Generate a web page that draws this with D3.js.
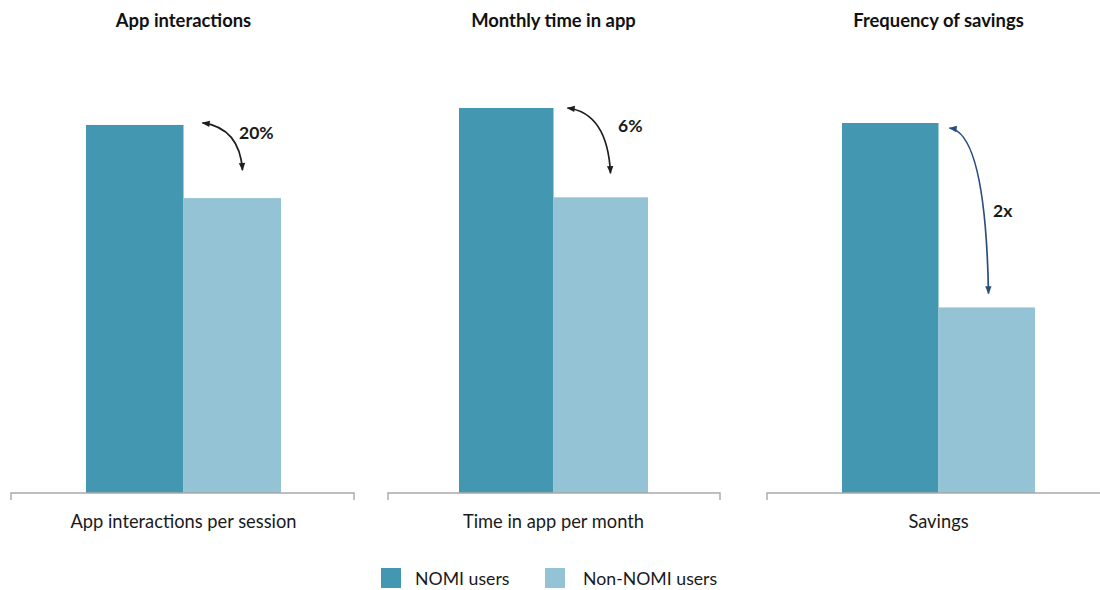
<!DOCTYPE html>
<html><head><meta charset="utf-8">
<script src="https://cdn.jsdelivr.net/npm/d3@7"></script>
<style>body{margin:0;background:#fff}svg{display:block}text{font-family:Lato,"Open Sans",sans-serif}</style>
</head><body>
<svg id="c" width="1100" height="590"></svg>
<script>
const titles = ["App interactions", "Monthly time in app", "Frequency of savings"];
const categories = ["App interactions per session", "Time in app per month", "Savings"];
const series = ["NOMI users", "Non-NOMI users"];
const nomiValues = [95.6, 100, 96.1];
const nonNomiValues = [76.6, 76.8, 48.2];
const changeLabels = ["20%", "6%", "2x"];
const colors = ["#4397b1", "#94c3d6"];

const svg = d3.select("#c");
const baseY = 493;
const y = d3.scaleLinear().domain([0, 100]).range([baseY, 108]);

// panel layout: axis extents, bar extents, arrow geometry
const panels = [
  {ax0: 11, ax1: 354, b0: 86, b1: 281, arrowCol: "#1e1e1e", sdx: 19, sdy: -2, edx: 59, edy: -28, lx: 239, ly: 139},
  {ax0: 388, ax1: 720, b0: 459, b1: 648, arrowCol: "#1e1e1e", sdx: 14, sdy: 0, edx: 57, edy: -24, lx: 618, ly: 132},
  {ax0: 767, ax1: 1115, b0: 842, b1: 1035, arrowCol: "#2a4d7e", sdx: 11, sdy: 5, edx: 50, edy: -14, lx: 993, ly: 217}
];

const defs = svg.append("defs");
["#1e1e1e", "#2a4d7e"].forEach((c, i) => {
  defs.append("marker").attr("id", "ah" + i).attr("viewBox", "0 0 10 10")
    .attr("refX", 9).attr("refY", 5).attr("markerWidth", 9).attr("markerHeight", 8)
    .attr("orient", "auto-start-reverse").attr("markerUnits", "userSpaceOnUse")
    .append("path").attr("d", "M0,1 L10,5 L0,9 Z").attr("fill", c);
});

panels.forEach((p, i) => {
  const g = svg.append("g");
  const x = d3.scaleBand().domain(series).range([p.b0, p.b1]).padding(0);
  const vals = [nomiValues[i], nonNomiValues[i]];
  const center = (p.b0 + p.b1) / 2;
  g.selectAll("rect").data(series).join("rect")
    .attr("x", d => x(d)).attr("width", x.bandwidth())
    .attr("y", (d, j) => y(vals[j])).attr("height", (d, j) => baseY - y(vals[j]))
    .attr("fill", (d, j) => colors[j]);
  g.append("path").attr("d", `M${p.ax0},${baseY+7}V${baseY}H${p.ax1}V${baseY+7}`)
    .attr("fill", "none").attr("stroke", "#a9a9a9").attr("stroke-width", 1.4);
  g.append("text").attr("x", center).attr("y", 27).attr("text-anchor", "middle")
    .attr("font-weight", "bold").attr("font-size", 18.4).attr("fill", "#111").text(titles[i]);
  g.append("text").attr("x", center).attr("y", 528).attr("text-anchor", "middle")
    .attr("font-size", 18.3).attr("fill", "#1a1a1a").text(categories[i]);
  const xs = x(series[1]);
  const sx = xs + p.sdx, sy = y(vals[0]) + p.sdy;
  const ex = xs + p.edx, ey = y(vals[1]) + p.edy;
  const cx = ex - 3, cy = sy + 5;
  const mk = i === 2 ? "url(#ah1)" : "url(#ah0)";
  g.append("path").attr("d", `M${sx},${sy} Q${cx},${cy} ${ex},${ey}`)
    .attr("fill", "none").attr("stroke", p.arrowCol).attr("stroke-width", 1.7)
    .attr("marker-start", mk).attr("marker-end", mk);
  g.append("text").attr("x", p.lx).attr("y", p.ly).attr("font-weight", "bold")
    .attr("font-size", 17.5).attr("fill", "#1a1a1a").text(changeLabels[i]);
});

// legend
const lg = svg.append("g");
const legX = [381, 545];
const legTX = [415, 583];
series.forEach((s, i) => {
  lg.append("rect").attr("x", legX[i]).attr("y", 568).attr("width", 20).attr("height", 20).attr("fill", colors[i]);
  lg.append("text").attr("x", legTX[i]).attr("y", 585).attr("font-size", 17.7).attr("fill", "#1a1a1a").text(s);
});
</script>
</body></html>
